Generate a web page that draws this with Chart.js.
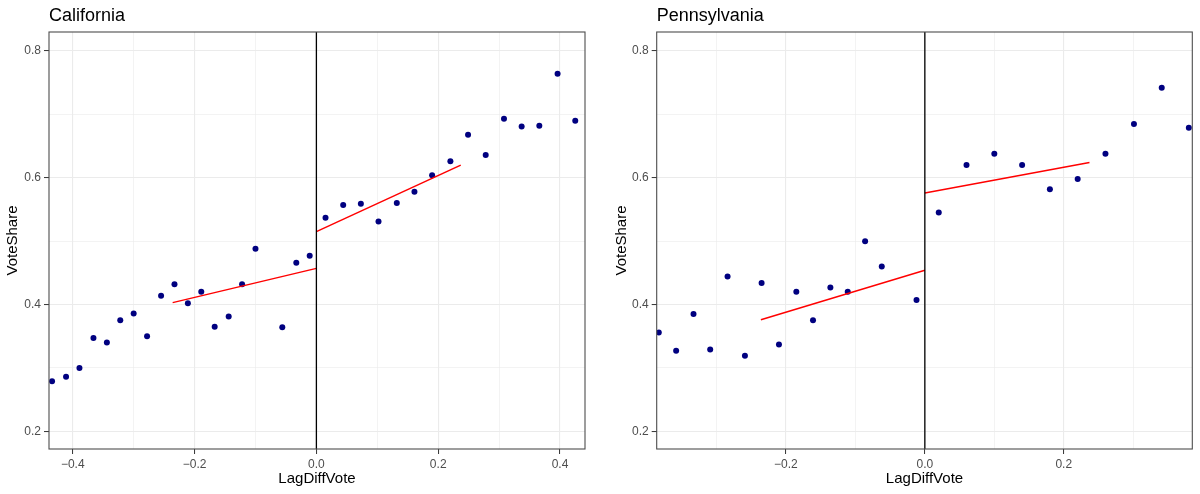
<!DOCTYPE html>
<html lang="en">
<head>
<meta charset="UTF-8">
<title>VoteShare vs LagDiffVote</title>
<script src="https://cdn.jsdelivr.net/npm/chart.js@4.4.5/dist/chart.umd.min.js"></script>
<style>
  body { margin: 0; background: #fff; }
  .panel { position: absolute; top: 0; width: 600px; height: 494px; }
</style>
</head>
<body>
<div class="panel" style="left:0"><canvas id="caChart" width="600" height="494"></canvas></div>
<div class="panel" style="left:600px"><canvas id="paChart" width="600" height="494"></canvas></div>

<script>
// California
const caX = [-0.434, -0.411, -0.389, -0.366, -0.344, -0.322, -0.300, -0.278, -0.255, -0.233,
             -0.211, -0.189, -0.167, -0.144, -0.122, -0.100, -0.056, -0.033, -0.011,
             0.015, 0.044, 0.073, 0.102, 0.132, 0.161, 0.190, 0.220, 0.249, 0.278,
             0.308, 0.337, 0.366, 0.396, 0.425];
const caY = [0.279, 0.286, 0.300, 0.347, 0.340, 0.375, 0.386, 0.350, 0.414, 0.432,
             0.402, 0.420, 0.365, 0.381, 0.432, 0.488, 0.364, 0.466, 0.477,
             0.537, 0.557, 0.559, 0.531, 0.560, 0.578, 0.604, 0.626, 0.668, 0.636,
             0.693, 0.681, 0.682, 0.764, 0.690];
const caFitLeftX = [-0.236, 0];
const caFitLeftY = [0.403, 0.457];
const caFitRightX = [0, 0.237];
const caFitRightY = [0.515, 0.620];
const caXTicks = [-0.4, -0.3, -0.2, -0.1, 0, 0.1, 0.2, 0.3, 0.4];
const caXRange = [-0.439, 0.441];

// Pennsylvania
const paX = [-0.383, -0.358, -0.333, -0.309, -0.284, -0.259, -0.235, -0.210, -0.185, -0.161,
             -0.136, -0.111, -0.086, -0.062, -0.012,
             0.020, 0.060, 0.100, 0.140, 0.180, 0.220, 0.260, 0.301, 0.341, 0.380];
const paY = [0.356, 0.327, 0.385, 0.329, 0.444, 0.319, 0.434, 0.337, 0.420, 0.375,
             0.427, 0.420, 0.500, 0.460, 0.407,
             0.545, 0.620, 0.638, 0.620, 0.582, 0.598, 0.638, 0.685, 0.742, 0.679];
const paFitLeftX = [-0.236, 0];
const paFitLeftY = [0.376, 0.454];
const paFitRightX = [0, 0.237];
const paFitRightY = [0.576, 0.624];
const paXTicks = [-0.3, -0.2, -0.1, 0, 0.1, 0.2, 0.3];
const paXRange = [-0.386, 0.385];

// shared y axis
const yTicks = [0.2, 0.3, 0.4, 0.5, 0.6, 0.7, 0.8];
const yRange = [0.172, 0.83];

const FONT = "'Liberation Sans', Arial, Helvetica, sans-serif";

function pts(xs, ys) {
    return xs.map((x, i) => ({x: x, y: ys[i]}));
}

function isMajor(v) {
    return Math.abs(Math.round(v * 10)) % 2 === 0;
}

function fmt(v) {
    return v.toFixed(1).replace('-', '\u2212');
}

const panelPlugin = {
    id: 'panel',
    afterDraw(chart) {
        const ctx = chart.ctx;
        const a = chart.chartArea;
        ctx.save();
        // panel border
        ctx.strokeStyle = '#4d4d4d';
        ctx.lineWidth = 1.1;
        ctx.strokeRect(a.left, a.top, a.right - a.left, a.bottom - a.top);
        // panel title
        ctx.fillStyle = '#000';
        ctx.font = '18px ' + FONT;
        ctx.textAlign = 'left';
        ctx.textBaseline = 'alphabetic';
        ctx.fillText(chart.options.plugins.panel.title, a.left, 21);
        ctx.restore();
    }
};

function makeChart(id, p) {
    const gridColor = '#ebebeb';
    const tickOpts = () => ({
        color: '#4d4d4d',
        font: {family: FONT, size: 12},
        padding: 3,
        autoSkip: false,
        maxRotation: 0,
        callback: (v) => isMajor(v) ? fmt(v) : ''
    });
    const gridOpts = {
        color: gridColor,
        lineWidth: (c) => isMajor(c.tick.value) ? 1.1 : 0.6,
        tickColor: (c) => isMajor(c.tick.value) ? '#333' : 'rgba(0,0,0,0)',
        tickWidth: 1,
        tickLength: 5,
        drawTicks: true
    };

    return new Chart(document.getElementById(id), {
        type: 'scatter',
        data: {
            datasets: [
                {
                    data: [{x: 0, y: yRange[0]}, {x: 0, y: yRange[1]}],
                    showLine: true, borderColor: '#000', borderWidth: 1.3, pointRadius: 0
                },
                {
                    data: pts(p.fitLeftX, p.fitLeftY),
                    showLine: true, borderColor: '#ff0000', borderWidth: 1.5, pointRadius: 0
                },
                {
                    data: pts(p.fitRightX, p.fitRightY),
                    showLine: true, borderColor: '#ff0000', borderWidth: 1.5, pointRadius: 0
                },
                {
                    data: pts(p.x, p.y),
                    backgroundColor: '#000080', borderWidth: 0, pointRadius: 3
                }
            ]
        },
        options: {
            responsive: false,
            animation: false,
            events: [],
            layout: {padding: {left: 0, right: p.padRight, top: 32, bottom: 0}},
            scales: {
                x: {
                    type: 'linear',
                    min: p.xRange[0],
                    max: p.xRange[1],
                    afterBuildTicks: (s) => { s.ticks = p.xTicks.map(v => ({value: v})); },
                    afterFit: (s) => { s.height = 45; },
                    ticks: tickOpts(),
                    grid: gridOpts,
                    border: {display: false},
                    title: {
                        display: true, text: 'LagDiffVote', color: '#000',
                        font: {family: FONT, size: 15}, padding: {top: 0, bottom: 6}
                    }
                },
                y: {
                    type: 'linear',
                    min: yRange[0],
                    max: yRange[1],
                    afterBuildTicks: (s) => { s.ticks = yTicks.map(v => ({value: v})); },
                    afterFit: (s) => { s.width = p.yWidth; },
                    ticks: tickOpts(),
                    grid: gridOpts,
                    border: {display: false},
                    title: {
                        display: true, text: 'VoteShare', color: '#000',
                        font: {family: FONT, size: 15}, padding: {top: p.yTitlePad, bottom: 0}
                    }
                }
            },
            plugins: {
                legend: {display: false},
                tooltip: {enabled: false},
                panel: {title: p.title}
            }
        },
        plugins: [panelPlugin]
    });
}

makeChart('caChart', {
    title: 'California',
    x: caX, y: caY,
    fitLeftX: caFitLeftX, fitLeftY: caFitLeftY,
    fitRightX: caFitRightX, fitRightY: caFitRightY,
    xTicks: caXTicks, xRange: caXRange,
    yWidth: 49, yTitlePad: 4, padRight: 15
});

makeChart('paChart', {
    title: 'Pennsylvania',
    x: paX, y: paY,
    fitLeftX: paFitLeftX, fitLeftY: paFitLeftY,
    fitRightX: paFitRightX, fitRightY: paFitRightY,
    xTicks: paXTicks, xRange: paXRange,
    yWidth: 56.7, yTitlePad: 12.7, padRight: 7.7
});
</script>
</body>
</html>
